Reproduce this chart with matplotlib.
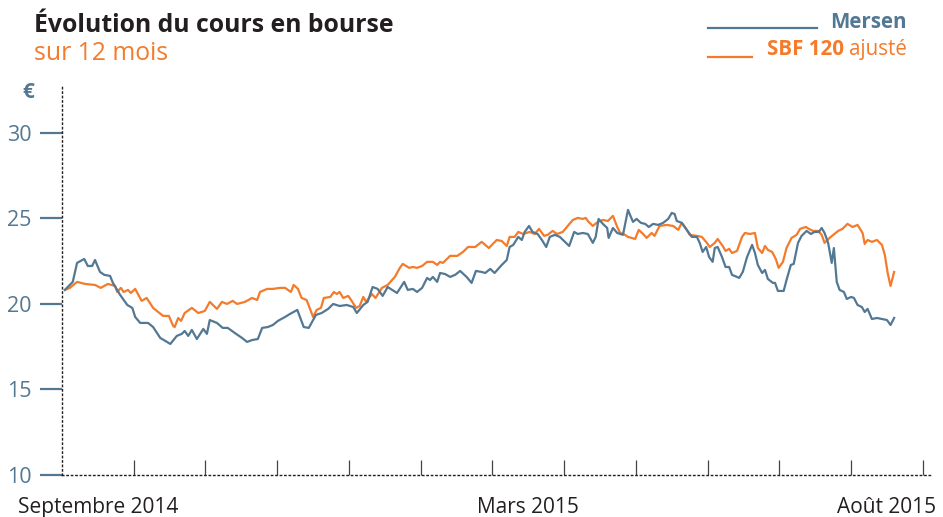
import matplotlib.pyplot as plt
from matplotlib.lines import Line2D

# temps en mois depuis le 1er septembre 2014, cours en euros
mersen_t = [0.04, 0.15, 0.21, 0.31, 0.36, 0.42, 0.46, 0.53, 0.59, 0.67, 0.71, 0.81, 0.91, 0.98,
            1.02, 1.09, 1.20, 1.27, 1.37, 1.44, 1.51, 1.60, 1.67, 1.71, 1.76, 1.81, 1.88, 1.97,
            2.02, 2.06, 2.16, 2.24, 2.31, 2.41, 2.51, 2.58, 2.65, 2.73, 2.79, 2.87, 2.94, 3.01,
            3.11, 3.18, 3.28, 3.37, 3.44, 3.54, 3.62, 3.71, 3.78, 3.87, 3.97, 4.06, 4.11, 4.20,
            4.26, 4.33, 4.40, 4.47, 4.54, 4.67, 4.77, 4.82, 4.89, 4.95, 5.02, 5.09, 5.13, 5.17,
            5.23, 5.27, 5.34, 5.41, 5.48, 5.55, 5.64, 5.71, 5.77, 5.85, 5.90, 5.97, 6.03, 6.13,
            6.20, 6.24, 6.29, 6.36, 6.41, 6.45, 6.51, 6.56, 6.63, 6.69, 6.75, 6.80, 6.87, 6.94,
            7.01, 7.07, 7.14, 7.19, 7.26, 7.33, 7.40, 7.44, 7.48, 7.54, 7.60, 7.62, 7.68, 7.74,
            7.82, 7.89, 7.93, 7.96, 8.01, 8.07, 8.13, 8.18, 8.24, 8.31, 8.38, 8.45, 8.50, 8.54,
            8.57, 8.64, 8.71, 8.78, 8.85, 8.89, 8.93, 8.98, 9.02, 9.07, 9.10, 9.14, 9.20, 9.25,
            9.30, 9.34, 9.41, 9.44, 9.49, 9.55, 9.62, 9.66, 9.70, 9.76, 9.80, 9.84, 9.91, 9.94,
            9.98, 10.06, 10.10, 10.16, 10.20, 10.26, 10.31, 10.38, 10.44, 10.49, 10.55, 10.59,
            10.63, 10.68, 10.73, 10.76, 10.80, 10.84, 10.90, 10.94, 11.00, 11.04, 11.09, 11.15,
            11.19, 11.23, 11.29, 11.36, 11.43, 11.50, 11.55, 11.60]
mersen_v = [20.82, 21.29, 22.40, 22.63, 22.22, 22.22, 22.57, 21.87, 21.70, 21.64, 21.23, 20.53,
            19.94, 19.77, 19.24, 18.89, 18.89, 18.65, 18.01, 17.84, 17.66, 18.13, 18.25, 18.42,
            18.13, 18.48, 17.95, 18.54, 18.25, 19.06, 18.89, 18.60, 18.60, 18.30, 18.01, 17.78,
            17.89, 17.95, 18.60, 18.65, 18.77, 19.01, 19.24, 19.42, 19.65, 18.65, 18.60, 19.36,
            19.47, 19.71, 20.00, 19.88, 19.94, 19.82, 19.47, 19.94, 20.12, 20.99, 20.88, 20.47,
            20.99, 20.64, 21.29, 20.82, 20.88, 20.70, 20.94, 21.52, 21.40, 21.58, 21.29, 21.81,
            21.75, 21.58, 21.70, 21.93, 21.58, 21.23, 21.93, 21.87, 21.81, 22.05, 21.81, 22.28,
            22.57, 23.33, 23.45, 23.92, 23.74, 24.21, 24.56, 24.21, 24.09, 23.74, 23.33, 23.92,
            24.04, 23.92, 23.63, 23.39, 24.21, 24.09, 24.15, 24.09, 23.57, 23.92, 24.97, 24.68,
            24.44, 23.86, 24.44, 24.15, 24.04, 25.50, 25.09, 24.80, 24.97, 24.74, 24.68, 24.50,
            24.68, 24.62, 24.74, 24.97, 25.32, 25.26, 24.85, 24.74, 24.33, 23.92, 23.92, 23.57,
            23.04, 23.33, 22.75, 22.46, 23.27, 23.33, 22.75, 22.16, 22.16, 21.70, 21.58, 21.52,
            21.87, 22.75, 23.45, 22.98, 22.28, 21.81, 21.99, 21.46, 21.23, 21.23, 20.76, 20.76,
            21.40, 22.28, 22.34, 23.57, 23.98, 24.27, 24.09, 24.21, 24.21, 24.44, 24.15, 23.57,
            22.40, 23.27, 21.29, 20.82, 20.70, 20.29, 20.41, 20.35, 19.94, 19.82, 19.53, 19.71,
            19.12, 19.18, 19.12, 19.06, 18.77, 19.18]

sbf_t = [0.04, 0.11, 0.21, 0.32, 0.46, 0.54, 0.64, 0.74, 0.77, 0.82, 0.86, 0.92, 0.96, 1.02,
         1.11, 1.18, 1.27, 1.34, 1.41, 1.49, 1.55, 1.57, 1.62, 1.66, 1.71, 1.81, 1.90, 1.99,
         2.06, 2.16, 2.23, 2.30, 2.38, 2.44, 2.55, 2.65, 2.72, 2.76, 2.86, 2.94, 3.04, 3.11,
         3.19, 3.23, 3.29, 3.34, 3.41, 3.50, 3.55, 3.61, 3.65, 3.74, 3.79, 3.83, 3.87, 3.92,
         3.99, 4.03, 4.10, 4.15, 4.20, 4.24, 4.32, 4.37, 4.46, 4.54, 4.64, 4.71, 4.75, 4.84,
         4.89, 4.95, 5.02, 5.09, 5.17, 5.23, 5.27, 5.31, 5.41, 5.51, 5.59, 5.66, 5.76, 5.85,
         5.95, 6.06, 6.13, 6.20, 6.24, 6.31, 6.36, 6.43, 6.52, 6.59, 6.65, 6.72, 6.77, 6.84,
         6.90, 6.98, 7.05, 7.12, 7.19, 7.26, 7.30, 7.34, 7.40, 7.47, 7.54, 7.61, 7.68, 7.74,
         7.78, 7.83, 7.89, 7.99, 8.04, 8.10, 8.15, 8.22, 8.26, 8.33, 8.43, 8.52, 8.59, 8.64,
         8.70, 8.75, 8.85, 8.92, 8.99, 9.03, 9.10, 9.14, 9.21, 9.25, 9.30, 9.34, 9.41, 9.48,
         9.52, 9.59, 9.66, 9.70, 9.76, 9.80, 9.84, 9.90, 9.95, 9.99, 10.05, 10.10, 10.17,
         10.24, 10.29, 10.37, 10.41, 10.47, 10.54, 10.59, 10.63, 10.70, 10.82, 10.88, 10.95,
         11.02, 11.09, 11.16, 11.19, 11.23, 11.29, 11.36, 11.43, 11.47, 11.51, 11.55, 11.60]
sbf_v = [20.82, 20.94, 21.29, 21.17, 21.11, 20.94, 21.17, 21.05, 20.70, 20.94, 20.70, 20.82,
         20.64, 20.88, 20.18, 20.35, 19.77, 19.53, 19.30, 19.30, 18.71, 18.65, 19.18, 19.01,
         19.47, 19.77, 19.47, 19.59, 20.12, 19.71, 20.12, 20.00, 20.18, 20.00, 20.12, 20.35,
         20.23, 20.70, 20.88, 20.88, 20.94, 20.94, 20.70, 21.11, 20.88, 20.35, 20.23, 19.24,
         19.65, 19.77, 20.35, 20.41, 20.70, 20.58, 20.70, 20.35, 20.47, 20.23, 19.77, 19.88,
         20.41, 20.12, 20.58, 20.35, 20.94, 21.11, 21.58, 22.11, 22.34, 22.11, 22.16, 22.11,
         22.22, 22.46, 22.46, 22.28, 22.46, 22.40, 22.81, 22.81, 23.04, 23.33, 23.33, 23.63,
         23.27, 23.74, 23.68, 23.39, 23.92, 23.92, 24.21, 24.09, 24.21, 24.09, 24.39, 23.98,
         24.04, 24.27, 24.09, 24.21, 24.56, 24.91, 25.03, 24.97, 25.03, 24.80, 24.56, 24.80,
         24.91, 24.85, 25.15, 24.50, 24.15, 24.09, 23.92, 23.80, 24.33, 24.09, 23.86, 24.15,
         23.98, 24.56, 24.62, 24.56, 24.33, 24.74, 24.39, 24.04, 23.98, 23.92, 23.57, 23.33,
         23.57, 23.80, 23.39, 23.10, 23.22, 22.98, 23.10, 23.92, 24.15, 24.09, 24.15, 23.27,
         22.98, 23.39, 23.16, 23.04, 22.63, 22.11, 22.46, 23.27, 23.86, 24.04, 24.39, 24.50,
         24.39, 24.27, 24.27, 24.04, 23.57, 23.86, 24.27, 24.39, 24.68, 24.50, 24.62, 24.15,
         23.51, 23.74, 23.63, 23.74, 23.45, 22.87, 21.81, 21.05, 21.87]

y_ticks = [10, 15, 20, 25, 30]
month_ticks = list(range(1, 13))
label_pos = [0.5, 6.5, 11.5]
label_txt = ['Septembre 2014', 'Mars 2015', 'Août 2015']

BLUE = '#537894'
ORANGE = '#f47b2b'
DARK = '#231f20'

plt.rcParams['font.family'] = ['Open Sans', 'DejaVu Sans']

fig = plt.figure(figsize=(9.43, 5.17), dpi=100)
ax = fig.add_axes([62 / 943, 1 - 475 / 517, (930 - 62) / 943, (475 - 85) / 517])

ax.plot(sbf_t, sbf_v, color=ORANGE, lw=1.6, solid_joinstyle='round')
ax.plot(mersen_t, mersen_v, color=BLUE, lw=1.6, solid_joinstyle='round')

ax.set_xlim(0, 12.1)
ax.set_ylim(10, 32.8)

for s in ['top', 'right']:
    ax.spines[s].set_visible(False)
for s in ['left', 'bottom']:
    ax.spines[s].set_linestyle((0, (1, 2.2)))
    ax.spines[s].set_color(DARK)
    ax.spines[s].set_linewidth(1.0)

ax.set_yticks(y_ticks)
ax.set_yticklabels([str(v) for v in y_ticks])
ax.tick_params(axis='y', direction='out', length=16, width=1.6, color=BLUE,
               labelcolor=BLUE, labelsize=15.5, pad=6)

ax.set_xticks(month_ticks)
ax.set_xticklabels([])
ax.tick_params(axis='x', which='major', direction='in', length=11, width=0.9, color='#444444')
ax.set_xticks(label_pos, minor=True)
ax.set_xticklabels(label_txt, minor=True)
ax.tick_params(axis='x', which='minor', length=0, labelsize=15, labelcolor=DARK, pad=16)

fig.text(28 / 943, 1 - 92 / 517, '€', color=BLUE, fontsize=15, fontweight='bold',
         ha='center', va='center')

# titre
fig.text(34 / 943, 1 - 26 / 517, 'Évolution du cours en bourse', color=DARK,
         fontsize=17.8, fontweight='bold', va='center')
fig.text(34 / 943, 1 - 54 / 517, 'sur 12 mois', color=ORANGE, fontsize=17.8, va='center')

# légende
fig.add_artist(Line2D([708 / 943, 817 / 943], [1 - 28 / 517, 1 - 28 / 517], color=BLUE, lw=1.6))
fig.text(907 / 943, 1 - 22 / 517, 'Mersen', color=BLUE, fontsize=14.8, fontweight='bold',
         ha='right', va='center')
fig.add_artist(Line2D([708 / 943, 752 / 943], [1 - 57 / 517, 1 - 57 / 517], color=ORANGE, lw=1.6))
fig.text(844 / 943, 1 - 50 / 517, 'SBF 120', color=ORANGE, fontsize=14.8, fontweight='bold',
         ha='right', va='center')
fig.text(907 / 943, 1 - 50 / 517, 'ajusté', color=ORANGE, fontsize=14.8, ha='right', va='center')

fig.savefig('out.png', dpi=100)
